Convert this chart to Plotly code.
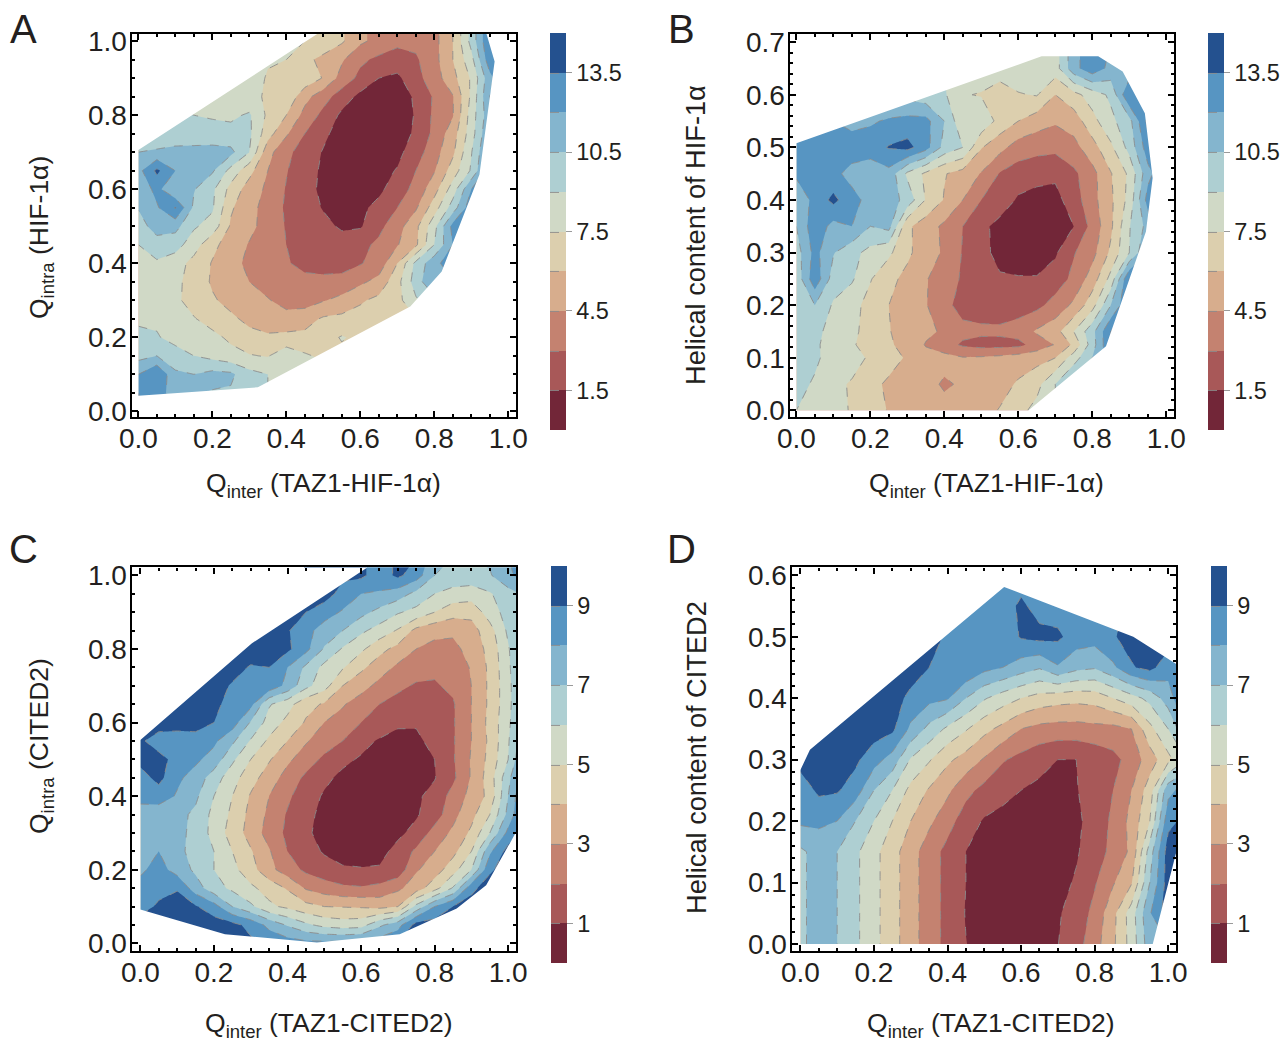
import plotly.graph_objects as go

N = None
W, H = 1284, 1042
band_colors = ["#722638", "#A85858", "#C48270", "#D7AD8D", "#DCCFAE",
               "#D0D9C6", "#AECFD2", "#84B5CE", "#5795C2", "#24518F"]

x_a = [i * 0.05 for i in range(21)]
x_c = [i * 0.05 for i in range(22)]

# Panel A, rows listed from top to bottom
y_a = [1.05, 1.0, .95, .9, .85, .8, .75, .7, .65, .6, .55, .5, .45, .4, .35, .3, .25, .2, .15, .1, .05, 0]
z_a = [
 [N]*6 + [7.8,7.7,7.6,7.5,7,6.2,4.8,4.0,3.4,3.4,4,6,9.5,13.5,14],
 [N]*6 + [7.8,7.7,7.6,7.5,7,6.2,4.8,4.0,3.4,3.4,4,6,9.5,13.5,14],
 [N]*4 + [8,7.9,7.8,7.6,7.5,6.4,5.6,4.7,3.3,2.7,2.3,2.8,4,6,8.5,13,14],
 [N]*2 + [8.6,8.4,8.2,8.1,8,7.4,7.2,7,5.9,3.9,2.6,1.5,1.2,2.5,3.8,5.5,7.7,11.5,14],
 [9,8.9,8.8,8.7,8.5,8.1,7.9,7.3,7.2,5,3.6,2.3,1.1,.8,.8,1.7,3.2,4.4,7.8,12,14],
 [9.3,9.2,9.1,9,8.8,8.7,9.2,7.2,6,4,2.6,1.2,.9,.8,.8,1.6,3.3,4.4,8.2,11.5,14],
 [9,9,9.5,9.6,9.7,9.5,9.3,6.6,4.7,3,1.8,.9,.8,.8,.9,1.7,3.4,5.3,8.3,12,14],
 [10.5,10.8,11,11,11,10.9,9,5,3.4,2.3,1.4,.9,.8,.8,1.1,2.3,3.9,5.7,8.9,12.5,14],
 [11.5,13.8,12,11,10.7,8.5,6.5,4.5,3.1,2,1.3,.9,.8,1,1.6,3,4.4,6.7,9.2,13,14],
 [10.8,12.5,10.5,10.6,9.3,7,5.3,4.2,2.9,2,1.2,.9,.9,1.2,2.2,3.5,5.4,8.2,12,14],
 [10.6,11.8,13.6,10.2,9.2,6.2,5,3.9,2.8,2.2,1.4,.9,1.2,1.9,3,4.3,6.8,9.7,13,14],
 [9.8,11.2,11,9.2,8.4,5.8,4.9,3.9,2.9,2.4,1.9,1.3,1.35,2.6,3.9,5.6,8.5,12.5,14],
 [9,9.8,9.6,8.2,6.4,5.3,4.4,3.9,3,2.5,2.2,2.1,2.6,3.3,4.4,5.7,9,12,14],
 [8.6,8.8,8.2,7,5.9,4.8,4.3,3.9,3.1,2.7,2.4,2.3,2.9,3.6,6,9.4,11.5,13],
 [8.2,8,7.8,7,5.8,5,4.5,3.9,3.4,3.3,3.4,3.6,4.2,5,7,9.7,12],
 [8.5,8.3,7.8,6.9,6.2,5.5,5,4.6,4,3.8,4.4,4.9,5.8,6.4,7,8.8,10],
 [8.8,8.8,8.5,7.6,6.9,6.3,5.6,5.3,5,5.4,6.2,6.4,6.6,6.9,7.2,7.4],
 [9.3,9.1,8.6,8.2,7.9,7.2,6.5,6.2,6.4,6.4,7,7.6,7.2,7.2,7.2],
 [10,10.5,9.5,9,8.5,8,7.6,7.4,8.5,7.7,7.2,7.2,7.2,7.2],
 [12,13.5,10.8,10.5,11,10.8,9.5,9,8.3,8,8,8],
 [13.5,13,11,10.6,10.4,10.3,10,9,8.5,8.3],
 [13.8,13,11,10.6,10.4,10.3,10,9.2],
]
hull_a_x = [0, .50, .938, .963, .922, .82, .735, .323, 0]
hull_a_y = [.706, 1.03, 1.03, .945, .64, .378, .283, .065, .042]

# Panel B
y_b = [.7, .65, .6, .55, .5, .45, .4, .35, .3, .25, .2, .15, .125, .1, .05, 0]
z_b = [
 [N]*7 + [8.2,8.2,8.2,8,8,8.4,8.8,8.3,11.5,13,12,12,12],
 [N]*6 + [9.5,9.3,9,8.7,8.4,8,8.4,8.8,8.3,11.5,13,11.5,11,12],
 [N]*2 + [11,11,10.5,10.3,10,9.5,9.2,7.6,7.4,7,7.4,7.6,6,7,8.2,9.3,13.5,13.5,14],
 [12.5,12.5,12,11.5,11.8,12.2,12.5,12.5,10.5,7.8,8.6,7,6,5.2,4.7,5.2,7,8.6,10,13.9,14],
 [12.8,12.8,12.8,12.8,12.8,13.6,14,12.6,10,9,6.1,5,3.8,3.5,3.4,4,5.4,7.2,9.5,12.8,14],
 [12.3,12.5,12.4,11.5,11,11.5,8.7,7.2,6.1,5.4,4.4,2.9,2.3,2,1.8,2.7,4,5.9,7.8,11.5,13.5],
 [10.8,12.5,13.9,12.5,11.5,11.2,10,7.4,5.9,4.5,3,2.4,1.3,1,1,2.3,4,5.7,8,12.6,14],
 [10.5,13,11.5,12,10.5,11,6.3,5.2,4.2,3,1.9,1,.9,.8,.9,1.5,3.5,5.7,8.9,11,14],
 [9.8,12.5,10.6,9.5,8.5,7.8,6.3,5.2,4.3,2.9,1.9,1.1,.8,.8,1.3,2.9,4,6.3,9,12,14],
 [9.5,13,9.8,9.2,7.6,6.4,5.6,4.6,3.8,2.8,1.9,1.65,1.6,1.6,2.2,3.4,5.2,8,13.5,14],
 [9.6,10.5,8.8,8,7,6,5.2,4.6,3.4,2.5,2.3,2.2,2.4,2.6,3.6,4.8,6.9,10.5,13.5,14],
 [9.4,9.3,8.6,7.8,7,6.1,5.2,4.8,4.3,3.4,3.3,3.3,3.6,4.7,5.4,7.5,10,13.5,14],
 [9.2,9.2,8.5,7.7,6.8,6.2,5.5,4.4,3.6,2.8,2.5,2.5,2.6,3.6,4.6,6.3,9.8,13.5,14],
 [9.5,9.3,8.3,8.3,7.2,6.7,5.8,5,5,4.6,4.7,4.9,5.2,5.5,6,8.3,10.5,13],
 [9.5,8.8,8,7.3,6.5,5.7,5.2,5,4.3,4.7,5.1,5.4,6.2,7,9,11,13],
 [9,8.3,7.9,7.4,6.7,5.9,5.4,5.2,5,5.2,5.4,6.1,7,8,9,10.5],
]
hull_b_x = [0, .663, .816, .882, .942, .963, .945, .837, .627, 0]
hull_b_y = [.508, .673, .673, .644, .565, .442, .34, .122, 0, 0]

# Panel C
y_c = [1.05, 1.0, .95, .9, .85, .8, .75, .7, .65, .6, .55, .5, .45, .4, .35, .3, .25, .2, .15, .1, .05, 0]
z_c = [
 [N]*9 + [9.5,9.4,9.2,9.2,8.5,9.2,9,7.4,7,7,7.2,8,8.6],
 [N]*9 + [9.5,9.4,9.2,9.2,8.5,9.2,8.5,7,6.7,6.6,6.9,7.8,8.5],
 [N]*7 + [9.6,9.6,9.5,9.5,8.6,8,7.9,7.5,6.7,6,5.6,5.5,5.9,6.6,7.2],
 [N]*5 + [9.6,9.6,9.6,9.5,9,8.4,7.9,7.3,6.7,6.1,5.7,5,4.4,4.3,5.5,6.4,7.2],
 [N]*4 + [9.6,9.6,9.6,9.6,9.1,8.3,7.6,7,6.2,5.6,4.9,3.7,3.3,3.2,3.6,4.6,6.2,7.2],
 [N]*2 + [9.6,9.6,9.6,9.6,9.6,9.4,9.2,8.3,6.9,5.9,5.2,4.3,3.7,3,2.7,2.7,3.4,4.3,5.9,7.5],
 [N] + [9.6,9.6,9.6,9.6,9.4,8.9,9,8,6.8,5.7,5.1,4.2,3.5,2.8,2.4,2.2,2.3,3.1,4.2,5.8,7.5],
 [9.6,9.6,9.6,9.6,9.4,8.9,8.6,8.7,7.7,6.3,5.4,4,3.4,2.7,2.2,1.9,1.9,2.2,3,4.2,5.7,7.5],
 [9.6,9.6,9.6,9.5,9.2,8.7,8.3,6.1,5.4,4.3,3.9,3.1,2.5,2,1.7,1.5,1.5,1.9,3,4.2,5.7,7.5],
 [9.6,9.6,9.5,9.3,9,8.5,6.9,5.6,4.7,3.9,3,2.6,2,1.6,1.1,1.1,1.4,1.9,3,4.3,5.8,7.5],
 [9.2,8.4,8.4,8.7,8.2,7.2,5.9,4.8,4,3.1,2.5,2,1.3,.9,.8,.8,1.3,1.9,3,4.2,5.9,8],
 [9.3,9.4,8.6,8.2,7.6,6.2,5,4.1,3.2,2.5,1.8,1.2,.9,.8,.7,.7,1,1.9,3.1,4.3,6,8.5],
 [8.6,9.3,8.2,7.6,6.5,5.4,4.4,3.5,2.6,1.8,1.2,.8,.7,.7,.7,.7,.95,1.8,3.1,4.5,6.7,9],
 [8.3,8.5,7.9,7.2,6,5,3.9,3,2.2,1.4,.9,.7,.7,.7,.7,.85,1.3,2.4,3.3,4.3,7,9.5],
 [7.6,7.4,7.3,6.8,5.7,4.8,3.7,2.8,1.9,1.2,.8,.7,.7,.7,.7,.9,1.5,2.7,3.7,5,7.3,9.5],
 [7.6,7.3,7.2,6.8,5.6,4.6,3.6,2.6,1.8,1.1,.8,.7,.7,.7,.8,1.3,2.4,3.2,4.2,6,8.3,9.6],
 [7.6,8,7.3,6.6,6,5,4.1,3.1,2,1.4,.9,.7,.7,.7,1.3,2.2,3,3.7,5,7.8,9.4,9.7],
 [7.8,8.4,7.6,6.8,6,5.3,4.4,3.3,2.5,1.8,1.4,1.1,1.05,1.1,1.4,2.9,3.5,4.6,6,8.8,9.6,9.7],
 [8.4,8.6,8.9,7.5,6.4,5.8,5.2,4.6,3.9,2.9,2.5,2.2,2.1,2.3,2.8,3.5,4.6,6.1,8.7,9.6,9.7],
 [8.5,9.2,9.5,9.1,8.4,7,6.2,5.2,4.8,4.3,4,3.95,3.9,3.7,4,6.3,8,9,9.5,9.7],
 [9.6,9.6,9.6,9.6,9.5,9.3,8.7,7.7,6.9,6.2,5.7,5.5,5.6,6.8,7.6,9.4,9.5,9.6],
 [9.6,9.6,9.6,9.6,9.6,9.5,9.2,8.8,8.5,8.3,8.3,8.3,8.4,8.6,9,9.5],
]
hull_c_x = [0, .3025, .63, 1.05, 1.05, 1.02, .94, .86, .705, .48, .23, 0]
hull_c_y = [.5525, .815, 1.03, 1.03, .33, .30, .158, .095, .025, .002, .025, .092]

# Panel D
y_d = [.6, .55, .5, .45, .4, .35, .3, .25, .2, .15, .1, .05, 0]
z_d = [
 [N]*7 + [9,8.7,8.5,8.5,8.5,8.5,8.6,8.5,8.5,8.5,8.5],
 [N]*6 + [9.6,9,8.6,8.5,8.5,8.5,9.2,8.6,8.5,8.5,8.5,8.7,9.3,9.4],
 [N]*4 + [9.6,9.6,9.6,9.5,8.8,8.5,8.4,8.3,9.1,9.3,9.2,8.5,8.4,8.9,9.4,9.5,9.5],
 [N]*2 + [9.6,9.6,9.6,9.6,9.6,9,8.4,8.9,8.3,8,7.5,7.1,7.9,7.3,7.1,7.8,8.9,9.3,8.4,9],
 [N] + [9.6,9.6,9.6,9.6,9.5,8.7,8.3,8.1,7,6.1,5.5,5,4.6,4.4,4.3,4.4,5,5.6,6.3,7.5,9.2],
 [9.6,9.6,9.5,9.5,9.5,9.2,7.8,6.7,5.8,5.1,4.3,3.7,3,2.7,2.6,2.6,2.7,2.7,3,4.7,6,8],
 [9.4,9.4,9.5,9.2,8.4,7.6,5.9,5.1,4.2,3.6,2.9,2.1,1.7,1.3,1,1,1.3,1.7,2.4,3.5,4.7,6],
 [8.4,9.2,9.1,8.5,7,6,4.7,3.9,3.2,2.3,1.7,1.3,1,.8,.8,.95,1.4,2,3,4.5,7.7,8.5],
 [8.2,8.2,8,7,6,5,4,3.2,2.4,1.5,.9,.7,.7,.7,.7,.8,1.4,2.2,3.3,5,8.7,9.3],
 [6.8,7.4,7,6.2,5.3,4.4,3.4,2.5,1.7,1,.7,.7,.7,.7,.7,.9,1.5,2.3,3.2,6.5,9.5,9.5],
 [6.8,7.4,7,6.2,5.3,4.4,3.4,2.5,1.7,1,.7,.7,.7,.7,.7,1.1,1.9,2.9,3.9,7,9.5,9.5],
 [6.8,7.4,7,6.2,5.3,4.4,3.4,2.5,1.7,.95,.7,.7,.7,.7,.9,1.4,2.3,3.7,5.5,7.9,9.6],
 [6.8,7.4,7,6.2,5.3,4.4,3.4,2.5,1.7,1.02,.7,.7,.7,.7,.98,1.6,2.6,3.8,5.4,7.6,8],
]
hull_d_x = [0, .026, .554, .905, 1.05, 1.05, .958, 0]
hull_d_y = [.283, .316, .581, .5, .445, .215, 0, 0]

tick_a = [1.5, 4.5, 7.5, 10.5, 13.5]
tick_c = [1, 3, 5, 7, 9]

TXT = "#231F20"
FONT = "Liberation Sans"

panels = [
    dict(x=x_a, y=y_a, z=z_a, hx=hull_a_x, hy=hull_a_y, step=1.5, ticks=tick_a,
         frame=(131.7, 515.7, 33.7, 417.3), xr=(-.018, 1.02), yr=(-.016, 1.02), ydt=.2, ymin=.05, cb=(550, 33)),
    dict(x=x_a, y=y_b, z=z_b, hx=hull_b_x, hy=hull_b_y, step=1.5, ticks=tick_a,
         frame=(789.7, 1173.7, 33.7, 416.8), xr=(-.018, 1.02), yr=(-.012, .716), ydt=.1, ymin=.02, cb=(1208, 33)),
    dict(x=x_c, y=y_c, z=z_c, hx=hull_c_x, hy=hull_c_y, step=1, ticks=tick_c,
         frame=(131.7, 516.3, 567.3, 950.7), xr=(-.0236, 1.022), yr=(-.02, 1.022), ydt=.2, ymin=.05, cb=(551, 566)),
    dict(x=x_c, y=y_d, z=z_d, hx=hull_d_x, hy=hull_d_y, step=1, ticks=tick_c,
         frame=(791.7, 1176.3, 567.3, 950.7), xr=(-.0236, 1.022), yr=(-.011, .613), ydt=.1, ymin=.02, cb=(1211, 566)),
]

fig = go.Figure()
layout = {}
for k, p in enumerate(panels):
    s = "" if k == 0 else str(k + 1)
    L, R, T, B = p["frame"]
    ncol = len(p["x"])
    rows = [r + [N] * (ncol - len(r)) for r in p["z"]][::-1]
    fig.add_trace(go.Contour(
        x=p["x"], y=p["y"][::-1], z=rows, xaxis="x" + s, yaxis="y" + s,
        autocontour=False, connectgaps=False, hoverinfo="skip",
        zmin=0, zmax=10 * p["step"], zauto=False,
        contours=dict(start=p["step"], end=9 * p["step"], size=p["step"], coloring="fill", showlines=True),
        line=dict(color="#8C8C8C", width=0.9, dash="dash", smoothing=0),
        colorscale=[[i / 9, c] for i, c in enumerate(band_colors)],
        colorbar=dict(x=p["cb"][0] / W, xanchor="left", xpad=0, ypad=0,
                      y=1 - p["cb"][1] / H, yanchor="top", len=397 / H, lenmode="fraction",
                      thickness=16, thicknessmode="pixels", outlinewidth=0,
                      tickmode="array", tickvals=p["ticks"], ticktext=[str(t) for t in p["ticks"]],
                      ticks="outside", ticklen=6, tickwidth=1, tickcolor="#9A9A9A",
                      tickfont=dict(family=FONT, size=23.5, color=TXT)),
    ))
    x0, x1 = p["xr"]; y0, y1 = p["yr"]
    mx = [x0, x1, x1, x0, x0] + p["hx"] + [p["hx"][0], x0]
    my = [y0, y0, y1, y1, y0] + p["hy"] + [p["hy"][0], y0]
    fig.add_trace(go.Scatter(x=mx, y=my, xaxis="x" + s, yaxis="y" + s, mode="lines",
                             fill="toself", fillcolor="white", line=dict(width=0),
                             hoverinfo="skip", showlegend=False))
    common = dict(showline=True, linecolor="black", linewidth=2.4, mirror="allticks",
                  ticks="inside", ticklen=6, tickwidth=2, tickcolor="black",
                  showgrid=False, zeroline=False, tickformat=".1f",
                  tickfont=dict(family=FONT, size=28, color=TXT))
    layout["xaxis" + s] = dict(common, domain=[L / W, R / W], range=list(p["xr"]), anchor="y" + s,
                               dtick=.2, tick0=0, ticklabelstandoff=-5,
                               minor=dict(dtick=.05, tick0=0, ticks="inside", ticklen=3, tickwidth=1.5,
                                          tickcolor="black", showgrid=False))
    layout["yaxis" + s] = dict(common, domain=[1 - B / H, 1 - T / H], range=list(p["yr"]), anchor="x" + s,
                               dtick=p["ydt"], tick0=0, ticklabelstandoff=-3,
                               minor=dict(dtick=p["ymin"], tick0=0, ticks="inside", ticklen=3, tickwidth=1.5,
                                          tickcolor="black", showgrid=False))

def note(text, px, py, size, angle=0):
    return dict(text=text, x=px / W, y=1 - py / H, xref="paper", yref="paper", showarrow=False,
                xanchor="center", yanchor="middle", textangle=angle,
                font=dict(family=FONT, size=size, color=TXT))

annotations = [
    note("A", 24, 29, 40), note("B", 681, 29, 40), note("C", 24, 549, 40), note("D", 681, 549, 40),
    note("Q<sub>inter</sub> (TAZ1-HIF-1α)", 324, 485, 26.5),
    note("Q<sub>inter</sub> (TAZ1-HIF-1α)", 986, 485, 26.5),
    note("Q<sub>inter</sub> (TAZ1-CITED2)", 329, 1025, 26.5),
    note("Q<sub>inter</sub> (TAZ1-CITED2)", 991, 1025, 26.5),
    note("Q<sub>intra</sub> (HIF-1α)", 41, 237, 26.5, -90),
    note("Helical content of HIF-1α", 696, 235, 27.2, -90),
    note("Q<sub>intra</sub> (CITED2)", 41, 746, 26.5, -90),
    note("Helical content of CITED2", 696, 757, 27.2, -90),
]

fig.update_layout(width=W, height=H, margin=dict(l=0, r=0, t=0, b=0, autoexpand=False), autosize=False,
                  paper_bgcolor="white", plot_bgcolor="white", showlegend=False,
                  annotations=annotations, **layout)
fig.write_html("out.html", post_script="document.body.style.margin='0';",
               config={"displayModeBar": False})
